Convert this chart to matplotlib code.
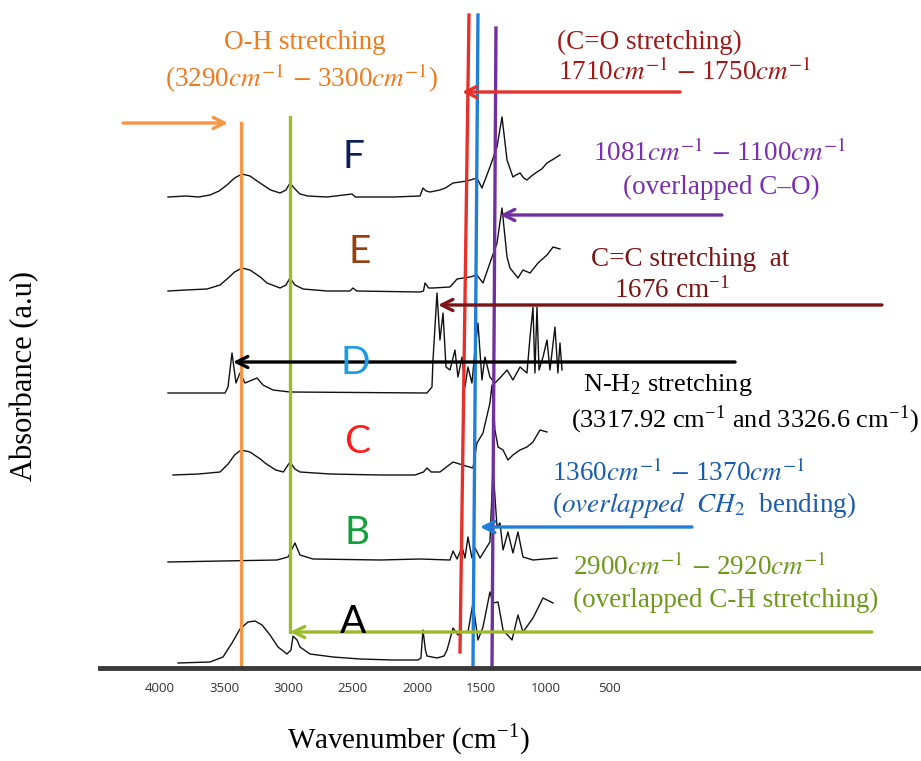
import numpy as np
import matplotlib.pyplot as plt

plt.rcParams['mathtext.fontset'] = 'stix'
serif = 'Liberation Serif'

# wavenumber (cm-1) and absorbance (a.u., already stacked)
wn_A = [3860, 3611, 3510, 3440, 3378, 3315, 3261, 3206, 3144, 3082, 3012, 2981, 2965, 2934, 2911,
        2833, 2654, 2444, 2187, 1993, 1970, 1954, 1935, 1923, 1845, 1790, 1767, 1720, 1682, 1643,
        1604, 1565, 1526, 1487, 1433, 1409, 1370, 1331, 1261, 1215, 1176, 1098, 1020, 942]
ab_A = [0.05, 0.06, 0.11, 0.25, 0.39, 0.46, 0.47, 0.43, 0.33, 0.21, 0.14, 0.18, 0.32, 0.28, 0.21,
        0.14, 0.11, 0.09, 0.08, 0.08, 0.10, 0.38, 0.18, 0.12, 0.10, 0.12, 0.18, 0.40, 0.33, 0.36,
        0.36, 0.65, 0.28, 0.41, 0.76, 0.65, 0.66, 0.38, 0.28, 0.53, 0.36, 0.50, 0.70, 0.65]

wn_B = [3938, 3090, 3004, 2950, 2911, 2810, 2288, 1977, 1744, 1720, 1689, 1650, 1627, 1604, 1573,
        1549, 1510, 1472, 1433, 1409, 1378, 1355, 1331, 1293, 1254, 1215, 1176, 1098, 911]
ab_B = [1.06, 1.08, 1.11, 1.25, 1.13, 1.09, 1.08, 1.09, 1.08, 1.17, 1.09, 1.21, 1.10, 1.31, 1.10,
        1.20, 1.10, 1.18, 1.26, 2.00, 1.41, 1.45, 1.18, 1.36, 1.15, 1.36, 1.11, 1.08, 1.10]

wn_C = [3899, 3700, 3533, 3470, 3420, 3370, 3300, 3220, 3183, 3100, 3040, 2989, 2950, 2911, 2677,
        2288, 2016, 1950, 1923, 1890, 1822, 1720, 1620, 1565, 1534, 1487, 1433, 1417, 1394, 1370,
        1331, 1293, 1254, 1199, 1145, 1098, 1044, 989]
ab_C = [1.93, 1.94, 1.96, 2.04, 2.13, 2.18, 2.16, 2.09, 2.05, 1.98, 1.96, 2.06, 1.99, 1.96, 1.94,
        1.93, 1.93, 1.96, 2.00, 1.96, 1.96, 2.06, 2.02, 2.00, 2.25, 2.35, 2.65, 2.83, 2.38, 2.21,
        2.18, 2.08, 2.13, 2.18, 2.21, 2.26, 2.38, 2.36]

wn_D = [3938, 3494, 3471, 3440, 3409, 3378, 3339, 3245, 3199, 3121, 2989, 1923, 1884, 1876, 1845,
        1822, 1798, 1775, 1744, 1705, 1682, 1650, 1627, 1604, 1573, 1549, 1526, 1495, 1472, 1433,
        1394, 1355, 1300, 1254, 1199, 1145, 1121, 1098, 1083, 1067, 1051, 1020, 989, 966, 927,
        904, 888, 872]
ab_D = [2.75, 2.75, 2.81, 3.15, 2.85, 2.95, 2.85, 2.90, 2.83, 2.78, 2.76, 2.75, 2.81, 3.08, 3.75,
        3.28, 3.55, 3.01, 2.98, 3.18, 2.91, 3.11, 2.81, 3.01, 2.85, 3.18, 3.45, 2.88, 3.11, 2.91,
        2.85, 2.90, 2.98, 2.88, 3.01, 2.95, 3.31, 3.61, 2.95, 3.61, 2.98, 3.11, 3.28, 2.98, 3.41,
        2.95, 3.25, 2.98]

wn_E = [3938, 3800, 3634, 3533, 3470, 3420, 3362, 3300, 3220, 3168, 3066, 3020, 2989, 2950, 2887,
        2700, 2522, 2498, 2470, 1977, 1950, 1938, 1910, 1876, 1744, 1689, 1588, 1534, 1487, 1433,
        1378, 1339, 1300, 1277, 1215, 1176, 1121, 1059, 989, 942, 888]
ab_E = [3.77, 3.78, 3.79, 3.83, 3.90, 3.96, 4.00, 3.98, 3.91, 3.85, 3.80, 3.83, 3.90, 3.83, 3.79,
        3.77, 3.77, 3.80, 3.77, 3.76, 3.77, 3.85, 3.80, 3.80, 3.81, 3.89, 3.91, 3.93, 3.85, 4.05,
        4.25, 4.60, 4.11, 4.00, 3.90, 3.98, 3.95, 4.05, 4.13, 4.21, 4.19]

wn_F = [3938, 3800, 3700, 3611, 3540, 3479, 3420, 3362, 3300, 3222, 3140, 3066, 3020, 2989, 2950,
        2911, 2850, 2701, 2506, 2480, 2187, 1977, 1954, 1930, 1899, 1822, 1780, 1720, 1612, 1534,
        1495, 1433, 1378, 1339, 1300, 1254, 1230, 1199, 1170, 1145, 1110, 1067, 1030, 989, 950, 888]
ab_F = [4.71, 4.72, 4.71, 4.73, 4.77, 4.83, 4.90, 4.94, 4.92, 4.85, 4.78, 4.75, 4.78, 4.85, 4.79,
        4.74, 4.72, 4.71, 4.74, 4.71, 4.71, 4.72, 4.80, 4.77, 4.76, 4.78, 4.80, 4.85, 4.87, 4.90,
        4.80, 5.01, 5.21, 5.51, 5.08, 4.91, 4.93, 4.95, 4.90, 4.88, 4.92, 4.96, 4.99, 5.05, 5.08, 5.13]

spectra = [(wn_A, ab_A), (wn_B, ab_B), (wn_C, ab_C), (wn_D, ab_D), (wn_E, ab_E), (wn_F, ab_F)]

sample_names = ['A', 'B', 'C', 'D', 'E', 'F']
name_colors = ['black', '#13a03c', '#ff1c1c', '#1e9be6', '#96400f', '#0c1d5a']
name_x = [2498, 2467, 2467, 2483, 2444, 2498]
name_y = [0.46, 1.35, 2.26, 3.05, 4.16, 5.11]

# marker lines: (wn top, ab top, wn bottom, ab bottom, colour)
marker_lines = [
    (3370, 5.45, 3370, 0.0, '#f79646'),
    (2989, 5.51, 2989, 0.36, '#9bbb2a'),
    (1596, 6.53, 1666, 0.16, '#e8302a'),
    (1526, 6.53, 1565, 0.0, '#1f7fdb'),
    (1386, 6.40, 1417, 0.0, '#7030a0'),
]

# arrows: (wn start, wn tip, level, colour)
arrows = [
    (4288, 3471, 5.45, '#f79646'),
    (-46, 1650, 5.76, '#e8302a'),
    (-372, 1355, 4.53, '#7030a0'),
    (-1617, 1837, 3.63, '#7b1515'),
    (-474, 3432, 3.06, 'black'),
    (-139, 1510, 1.41, '#1f7fdb'),
    (-1539, 2989, 0.36, '#9bbb2a'),
]

ticks = [4000, 3500, 3000, 2500, 2000, 1500, 1000, 500]

fig = plt.figure(figsize=(9.21, 7.61), dpi=100)
ax = fig.add_axes([100 / 921, 93 / 761, 821 / 921, 668 / 761])
ax.set_xlim(4467, -1921)
ax.set_ylim(0, 6.68)
for s in ['top', 'right', 'left']:
    ax.spines[s].set_visible(False)
ax.spines['bottom'].set_linewidth(3.5)
ax.spines['bottom'].set_color('#3a3a3a')
ax.set_yticks([])
ax.set_xticks(ticks)
ax.set_xticklabels([str(t) for t in ticks], fontsize=9.5, color='#333333', family='Open Sans')
ax.tick_params(axis='x', length=0, pad=10)

for wn, ab in spectra:
    ax.plot(wn, ab, color='#111111', lw=1.0, clip_on=False)

for x0, y0, x1, y1, c in marker_lines:
    ax.plot([x0, x1], [y0, y1], color=c, lw=2.4, clip_on=False)

for x0, x1, y, c in arrows:
    ax.annotate('', xy=(x1, y), xytext=(x0, y),
                arrowprops=dict(arrowstyle='->', color=c, lw=2.4, mutation_scale=20,
                                shrinkA=0, shrinkB=0),
                annotation_clip=False)

for n, c, x, y in zip(sample_names, name_colors, name_x, name_y):
    ax.text(x, y, n, color=c, fontsize=28, family='Lato', ha='center', va='center')

fs = 19.5
ax.text(2872, 6.25, 'O-H stretching', color='#f07b1e', fontsize=fs, family=serif,
        ha='center', va='center')
ax.text(2895, 5.90, r'(3290$cm^{-1}$ $-$ 3300$cm^{-1}$)', color='#f07b1e', fontsize=fs,
        family=serif, ha='center', va='center')

ax.text(911, 6.26, '(C=O stretching)', color='#a01818', fontsize=fs, family=serif,
        ha='left', va='center')
ax.text(903, 5.96, r'1710$cm^{-1}$ $-$ 1750$cm^{-1}$', color='#a01818', fontsize=fs,
        family=serif, ha='left', va='center')

ax.text(-357, 5.15, r'1081$cm^{-1}$ $-$ 1100$cm^{-1}$', color='#7a2fb0', fontsize=fs,
        family=serif, ha='center', va='center')
ax.text(-365, 4.81, '(overlapped C–O)', color='#7a2fb0', fontsize=fs, family=serif,
        ha='center', va='center')

ax.text(-123, 4.08, 'C=C stretching  at', color='#7b1515', fontsize=fs, family=serif,
        ha='center', va='center')
ax.text(17, 3.78, r'1676 cm$^{\mathregular{-1}}$', color='#7b1515', fontsize=fs, family=serif,
        ha='center', va='center')

ax.text(709, 2.83, r'N-H$_\mathregular{2}$ stretching', color='black', fontsize=19,
        family=serif, ha='left', va='center')
ax.text(802, 2.48, r'(3317.92 cm$^{\mathregular{-1}}$ and 3326.6 cm$^{\mathregular{-1}}$)',
        color='black', fontsize=19, family=serif, ha='left', va='center')

ax.text(950, 1.95, r'1360$cm^{-1}$ $-$ 1370$cm^{-1}$', color='#1a5cb0', fontsize=fs,
        family=serif, ha='left', va='center')
ax.text(950, 1.63, r'($overlapped$  $CH_2$  bending)', color='#1a5cb0', fontsize=fs,
        family=serif, ha='left', va='center')

ax.text(787, 1.01, r'2900$cm^{-1}$ $-$ 2920$cm^{-1}$', color='#6e9a1c', fontsize=fs,
        family=serif, ha='left', va='center')
ax.text(787, 0.68, '(overlapped C-H stretching)', color='#6e9a1c', fontsize=fs,
        family=serif, ha='left', va='center')

fig.text(25 / 921, 1 - 376 / 761, 'Absorbance (a.u)', rotation=90, fontsize=22,
         family=serif, ha='center', va='center')
fig.text(409 / 921, 1 - 740 / 761, r'Wavenumber (cm$^{\mathregular{-1}}$)', fontsize=21,
         family=serif, ha='center', va='center')

fig.savefig('out.png', dpi=100)
